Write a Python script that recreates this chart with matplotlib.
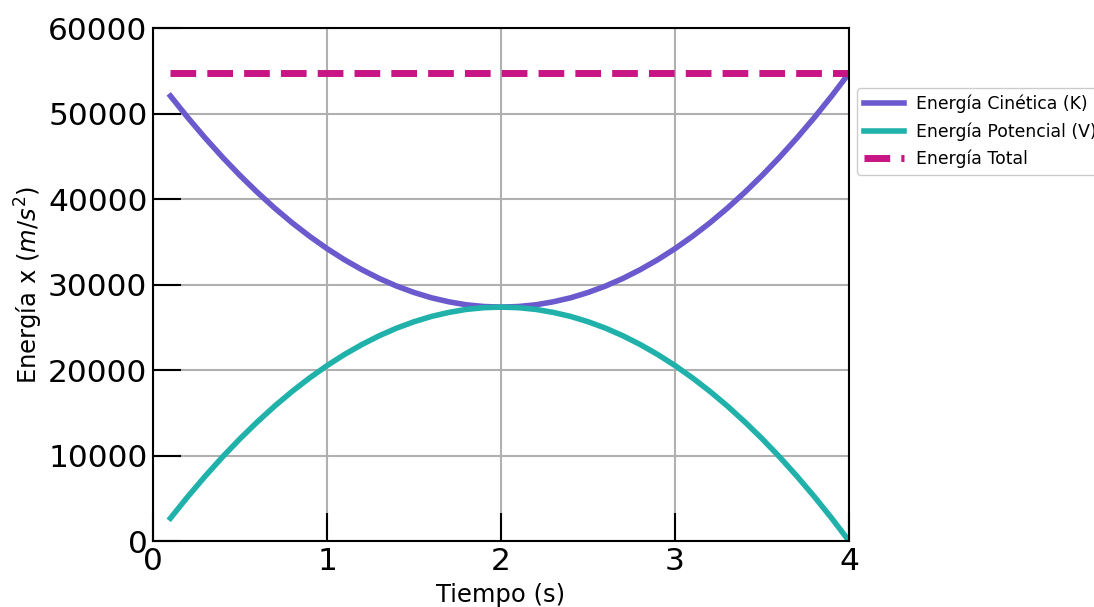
import numpy as np
import matplotlib
matplotlib.use("Agg")
import matplotlib.pyplot as plt

# values
tiempo = [0.1, 0.2, 0.3, 0.4, 0.5, 0.6, 0.7, 0.8, 0.9, 1.0,
          1.1, 1.2, 1.3, 1.4, 1.5, 1.6, 1.7, 1.8, 1.9, 2.0,
          2.1, 2.2, 2.3, 2.4, 2.5, 2.6, 2.7, 2.8, 2.9, 3.0,
          3.1, 3.2, 3.3, 3.4, 3.5, 3.6, 3.7, 3.8, 3.9, 4.0]

cinetica = [52050, 49520, 47130, 44870, 42750, 40770, 38920, 37210, 35640, 34200,
            32900, 31740, 30710, 29820, 29070, 28450, 27980, 27630, 27430, 27360,
            27430, 27630, 27980, 28450, 29070, 29820, 30710, 31740, 32900, 34200,
            35640, 37210, 38920, 40770, 42750, 44870, 47130, 49520, 52050, 54720]

potencial = [2670, 5200, 7590, 9850, 11970, 13950, 15800, 17510, 19080, 20520,
             21820, 22980, 24010, 24900, 25650, 26270, 26740, 27090, 27290, 27360,
             27290, 27090, 26740, 26270, 25650, 24900, 24010, 22980, 21820, 20520,
             19080, 17510, 15800, 13950, 11970, 9850, 7590, 5200, 2670, 0]

total = [54720] * len(tiempo)

fig = plt.figure(figsize=(10.94, 6.07), dpi=100)
ax = fig.add_axes([0.1399, 0.1087, 0.6362, 0.8451])

ax.plot(tiempo, cinetica, color="slateblue", linewidth=4, label="Energía Cinética (K)")
ax.plot(tiempo, potencial, color="lightseagreen", linewidth=4, label="Energía Potencial (V)")
ax.plot(tiempo, total, color="mediumvioletred", linewidth=5, linestyle="--",
        label="Energía Total")

ax.set_xlim(0, 4)
ax.set_ylim(0, 60000)
ax.set_xticks([0, 1, 2, 3, 4])
ax.set_yticks([0, 10000, 20000, 30000, 40000, 50000, 60000])

ax.grid(True, color="#b0b0b0", linewidth=1.5)
ax.tick_params(direction="in", length=20, width=1.5, labelsize=22.5, pad=4)
for s in ax.spines.values():
    s.set_linewidth(1.5)

ax.set_xlabel("Tiempo (s)", fontsize=17.5, labelpad=5)
ax.set_ylabel("Energía x ($m/s^2$)", fontsize=17.5, labelpad=2)

leg = ax.legend(loc="upper left", bbox_to_anchor=(1.0115, 0.883), borderaxespad=0,
                fontsize=12.4, handlelength=2.33, handletextpad=0.7, framealpha=1)

fig.savefig("out.png", dpi=100)
